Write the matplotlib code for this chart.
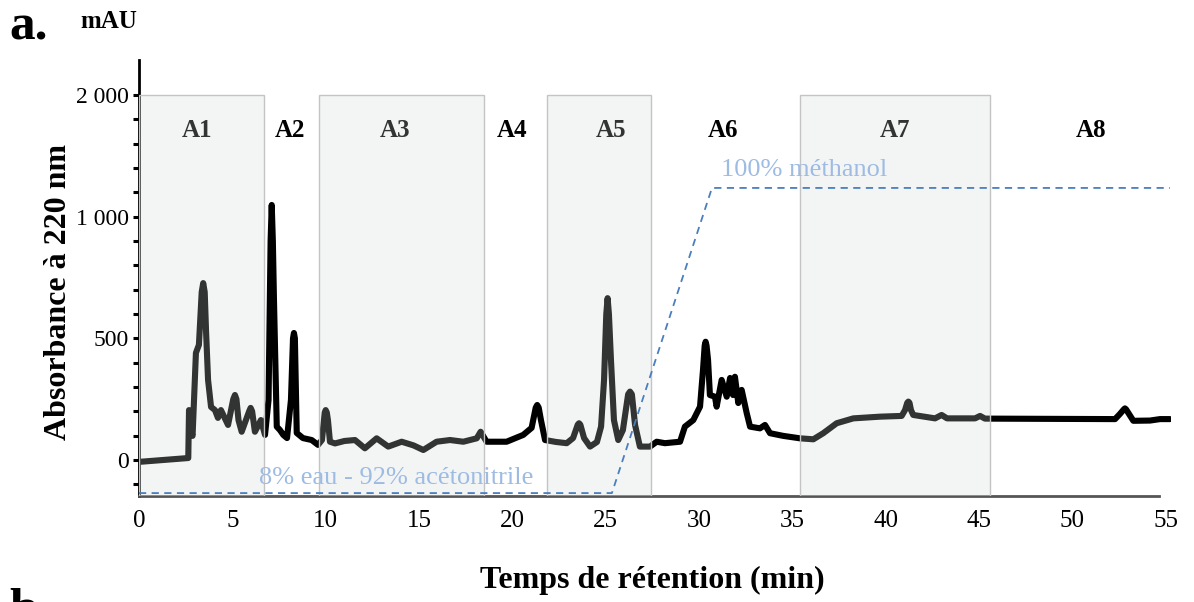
import matplotlib.pyplot as plt
from matplotlib.patches import Rectangle

plt.rcParams['font.family'] = ['Liberation Serif', 'DejaVu Serif']

# chromatogram trace (time in min, absorbance in axis units)
t = [0.0, 0.14, 2.64, 2.68, 2.79, 2.87, 3.05, 3.21, 3.36, 3.44, 3.52, 3.59, 3.70, 3.86, 4.07,
     4.23, 4.39, 4.77, 5.05, 5.14, 5.22, 5.33, 5.50, 5.90, 5.98, 6.06, 6.21, 6.53, 6.75, 6.94,
     7.05, 7.11, 7.17, 7.23, 7.38, 7.55, 7.73, 7.93, 8.14, 8.25, 8.30, 8.35, 8.45, 8.78, 9.25,
     9.59, 9.80, 9.95, 10.0, 10.06, 10.12, 10.23, 10.5, 11.0, 11.57, 12.1, 12.73, 13.35, 14.07,
     14.7, 15.23, 15.94, 16.66, 17.37, 18.09, 18.3, 18.62, 19.69, 20.58, 21.03, 21.25, 21.33,
     21.41, 21.53, 21.75, 22.34, 22.91, 23.25, 23.5, 23.57, 23.64, 23.84, 24.16, 24.53, 24.75,
     24.91, 25.03, 25.1, 25.17, 25.28, 25.44, 25.67, 25.92, 26.2, 26.3, 26.4, 26.57, 26.83,
     27.37, 27.73, 28.17, 28.98, 29.24, 29.69, 30.05, 30.21, 30.3, 30.35, 30.4, 30.48, 30.58,
     30.85, 30.94, 31.21, 31.48, 31.66, 31.82, 31.92, 32.1, 32.28, 32.55, 32.73, 33.26, 33.53,
     33.8, 34.51, 35.4, 36.12, 36.65, 37.37, 38.26, 39.69, 40.85, 41.03, 41.15, 41.21, 41.27,
     41.35, 41.47, 42.64, 42.99, 43.28, 44.78, 45.05, 45.31, 52.28, 52.54, 52.75, 52.81, 52.87,
     53.03, 53.26, 54.15, 54.69, 55.22]
absorb = [-7, -7, 8, 205, 115, 99, 440, 473, 690, 727, 690, 534, 329, 218, 205,
          173, 205, 144, 250, 267, 250, 164, 116, 200, 214, 200, 116, 164, 103, 247,
          900, 1048, 900, 658, 137, 123, 103, 90, 247, 500, 522, 500, 111, 90, 82,
          62, 82, 195, 205, 195, 164, 75, 68, 78, 82, 48, 89, 55, 75,
          60, 41, 75, 82, 75, 89, 116, 75, 75, 103, 132, 215, 226,
          215, 164, 82, 74, 69, 90, 145, 151, 145, 90, 55, 74, 137,
          329, 600, 665, 600, 411, 164, 82, 123, 270, 281, 270, 144, 55,
          55, 75, 69, 75, 137, 164, 219, 370, 470, 486, 470, 411, 267,
          260, 219, 329, 260, 337, 267, 342, 234, 288, 193, 137, 130, 144,
          110, 99, 89, 85, 110, 151, 171, 178, 181, 205, 235, 240, 235,
          205, 185, 171, 185, 171, 171, 181, 170, 168, 189, 208, 212, 208,
          189, 161, 162, 168, 168]

# solvent gradient (dashed)
grad_t = [0.0, 25.33, 30.69, 55.22]
grad_v = [-136, -136, 1118, 1118]

# fractions
frac_names = ['A1', 'A2', 'A3', 'A4', 'A5', 'A6', 'A7', 'A8']
frac_label_x = [3.1, 8.1, 13.7, 20.0, 25.3, 31.3, 40.5, 51.0]
shaded = [(0.0, 6.72), (9.64, 18.48), (21.85, 27.42), (35.4, 45.58)]

ytick_pos = [0, 500, 1000, 1500]
ytick_lab = ['0', '500', '1 000', '2 000']
xticks = list(range(0, 56, 5))

fig = plt.figure(figsize=(11.94, 6.02), dpi=100)
ax = fig.add_axes([0.1164, 0.1761, 0.8647, 0.7243])
ylo, yhi = -148, 1644
ax.set_xlim(0, 55.3)
ax.set_ylim(ylo, yhi)

ax.plot(t, absorb, color='black', lw=4.4, solid_joinstyle='round',
        solid_capstyle='round', zorder=2)

for name, xl in zip(frac_names, frac_label_x):
    ax.text(xl, 1356, name, ha='center', va='center', fontsize=18,
            fontweight='bold', color='black', zorder=2)

# shaded fraction bands sit over the trace (trace looks dark grey inside)
for x0, x1 in shaded:
    ax.add_patch(Rectangle((x0, ylo), x1 - x0, 1500 - ylo,
                           facecolor=(0.81, 0.84, 0.84, 0.245),
                           edgecolor='#c4c4c4', lw=1.0, zorder=3))

ax.plot(grad_t, grad_v, color='#4a7ebf', lw=1.3, ls=(0, (4, 3)), zorder=4,
        clip_on=False)
ax.text(13.8, -74, '8% eau - 92% acétonitrile', ha='center', va='center',
        fontsize=19, color='#9dbbe3', zorder=5)
ax.text(35.6, 1192, '100% méthanol', ha='center', va='center',
        fontsize=19, color='#9dbbe3', zorder=5)

ax.spines['top'].set_visible(False)
ax.spines['right'].set_visible(False)
ax.spines['left'].set_linewidth(2)
ax.spines['bottom'].set_linewidth(2)
ax.spines['bottom'].set_color('#555555')
ax.spines['bottom'].set_bounds(0, 54.63)

ax.set_xticks(xticks)
ax.set_xticklabels([str(x) for x in xticks], fontsize=18)
ax.tick_params(axis='x', length=0, pad=10)
ax.set_yticks(ytick_pos)
ax.set_yticklabels(ytick_lab, fontsize=17)
ax.set_yticks(list(range(-100, 1500, 100)), minor=True)
ax.tick_params(axis='y', which='both', direction='out', length=4, width=2.2, pad=3)

ax.set_ylabel('Absorbance à 220 nm', fontsize=23, fontweight='bold')
ax.yaxis.set_label_coords(-0.064, 0.468)
fig.text(0.546, 0.036, 'Temps de rétention (min)', ha='center', va='center',
         fontsize=23, fontweight='bold')
fig.text(0.067, 0.965, 'mAU', ha='left', va='center', fontsize=18, fontweight='bold')
fig.text(0.008, 0.955, 'a.', ha='left', va='center', fontsize=37, fontweight='bold')
# panel b starts just below, only its top shows (as in the source figure)
fig.text(0.008, 0.024, 'b.', ha='left', va='top', fontsize=37, fontweight='bold')

plt.savefig('out.png', dpi=100)
